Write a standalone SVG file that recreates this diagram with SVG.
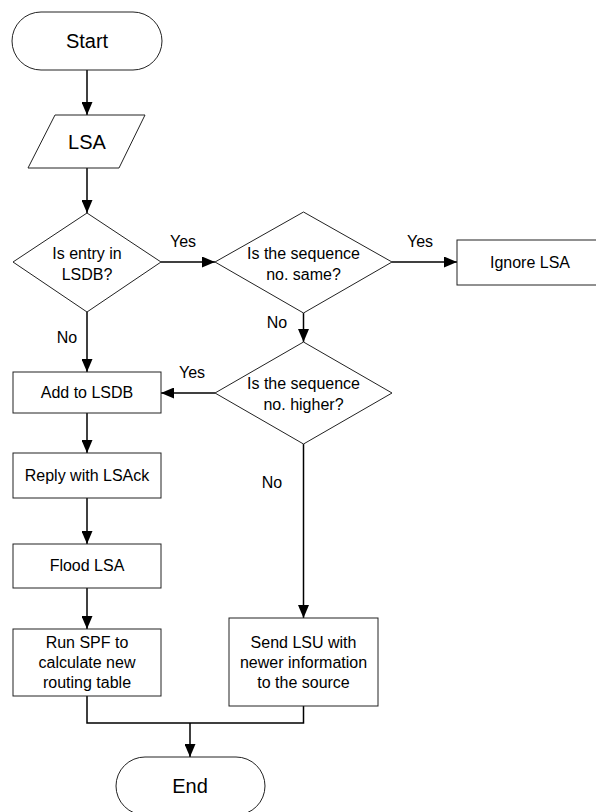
<svg xmlns="http://www.w3.org/2000/svg" width="596" height="812" viewBox="0 0 596 812">
<defs>
<marker id="ah" markerWidth="13" markerHeight="11" refX="13" refY="5.5" orient="auto" markerUnits="userSpaceOnUse">
<path d="M0,0 L13,5.5 L0,11 Z" fill="#000"/>
</marker>
<style>
.s{fill:#fff;stroke:#222;stroke-width:1}
.t{font-family:"Liberation Sans",Arial,sans-serif;font-size:16px;fill:#000;text-anchor:middle}
.big{font-size:20px}
.c{fill:none;stroke:#000;stroke-width:1.5}
</style>
</defs>
<rect width="596" height="812" fill="#fff"/>
<g id="connectors">
<path class="c" d="M87,70 V115" marker-end="url(#ah)"/>
<path class="c" d="M87,168 V213" marker-end="url(#ah)"/>
<path class="c" d="M161,262 H215" marker-end="url(#ah)"/>
<path class="c" d="M392,262 H457" marker-end="url(#ah)"/>
<path class="c" d="M303.5,313 V342" marker-end="url(#ah)"/>
<path class="c" d="M87,312 V372" marker-end="url(#ah)"/>
<path class="c" d="M215,393 H161" marker-end="url(#ah)"/>
<path class="c" d="M87,413 V453" marker-end="url(#ah)"/>
<path class="c" d="M87,498 V544" marker-end="url(#ah)"/>
<path class="c" d="M87,588 V629" marker-end="url(#ah)"/>
<path class="c" d="M303.5,444 V618" marker-end="url(#ah)"/>
<path class="c" d="M87,696 V723 H303.5 V706"/>
<path class="c" d="M190,723 V757" marker-end="url(#ah)"/>
<text class="t" x="183" y="247">Yes</text>
<text class="t" x="420" y="247">Yes</text>
<text class="t" x="277" y="328">No</text>
<text class="t" x="67" y="343">No</text>
<text class="t" x="192" y="378">Yes</text>
<text class="t" x="272" y="488">No</text>
</g>
<g id="start">
<rect class="s" x="12" y="12" width="150" height="58" rx="29"/>
<text class="t big" x="87" y="48">Start</text>
</g>
<g id="lsa">
<polygon class="s" points="55,115 145,115 119,168 28,168"/>
<text class="t big" x="87" y="149">LSA</text>
</g>
<g id="d1">
<polygon class="s" points="87,213 161,262 87,312 13,262"/>
<text class="t" x="87" y="259">Is entry in</text>
<text class="t" x="87" y="280">LSDB?</text>
</g>
<g id="d2">
<polygon class="s" points="303.5,212 392,262 303.5,313 215,262"/>
<text class="t" x="303.5" y="259">Is the sequence</text>
<text class="t" x="303.5" y="280">no. same?</text>
</g>
<g id="ignore">
<rect class="s" x="457" y="240" width="146" height="45"/>
<text class="t" x="530" y="268">Ignore LSA</text>
</g>
<g id="d3">
<polygon class="s" points="303.5,342 392,393 303.5,444 215,393"/>
<text class="t" x="303.5" y="389">Is the sequence</text>
<text class="t" x="303.5" y="410">no. higher?</text>
</g>
<g id="add">
<rect class="s" x="13" y="372" width="148" height="41"/>
<text class="t" x="87" y="398">Add to LSDB</text>
</g>
<g id="reply">
<rect class="s" x="13" y="453" width="148" height="45"/>
<text class="t" x="87" y="481">Reply with LSAck</text>
</g>
<g id="flood">
<rect class="s" x="13" y="544" width="148" height="44"/>
<text class="t" x="87" y="571">Flood LSA</text>
</g>
<g id="spf">
<rect class="s" x="13" y="629" width="148" height="67"/>
<text class="t" x="87" y="648">Run SPF to</text>
<text class="t" x="87" y="668">calculate new</text>
<text class="t" x="87" y="688">routing table</text>
</g>
<g id="lsu">
<rect class="s" x="229" y="618" width="149" height="88"/>
<text class="t" x="303.5" y="648">Send LSU with</text>
<text class="t" x="303.5" y="668">newer information</text>
<text class="t" x="303.5" y="688">to the source</text>
</g>
<g id="end">
<rect class="s" x="116" y="757" width="149" height="58" rx="29"/>
<text class="t big" x="190" y="793">End</text>
</g>
</svg>
